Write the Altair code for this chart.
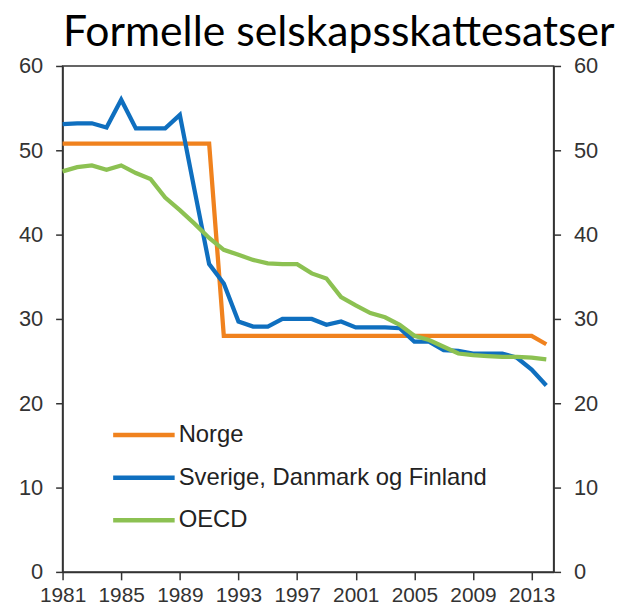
import altair as alt
import pandas as pd

years = [1981, 1982, 1983, 1984, 1985, 1986, 1987, 1988, 1989, 1990,
         1991, 1992, 1993, 1994, 1995, 1996, 1997, 1998, 1999, 2000,
         2001, 2002, 2003, 2004, 2005, 2006, 2007, 2008, 2009, 2010,
         2011, 2012, 2013, 2014]

norge = [50.8, 50.8, 50.8, 50.8, 50.8, 50.8, 50.8, 50.8, 50.8, 50.8,
         50.8, 28.0, 28.0, 28.0, 28.0, 28.0, 28.0, 28.0, 28.0, 28.0,
         28.0, 28.0, 28.0, 28.0, 28.0, 28.0, 28.0, 28.0, 28.0, 28.0,
         28.0, 28.0, 28.0, 27.0]

nordisk = [53.1, 53.2, 53.2, 52.7, 56.0, 52.6, 52.6, 52.6, 54.2, 45.3,
           36.5, 34.2, 29.7, 29.1, 29.1, 30.0, 30.0, 30.0, 29.3, 29.7,
           29.0, 29.0, 29.0, 28.9, 27.3, 27.3, 26.3, 26.2, 25.9, 25.9,
           25.9, 25.4, 24.0, 22.1]

oecd = [47.5, 48.0, 48.2, 47.7, 48.2, 47.3, 46.6, 44.4, 42.9, 41.3,
        39.6, 38.2, 37.6, 37.0, 36.6, 36.5, 36.5, 35.4, 34.8, 32.6,
        31.6, 30.7, 30.2, 29.3, 28.0, 27.5, 26.7, 25.9, 25.7, 25.6,
        25.5, 25.5, 25.4, 25.2]

series_names = ["Norge", "Sverige, Danmark og Finland", "OECD"]
series_colors = ["#F0821E", "#0F6FBF", "#8CC152"]
y_ticks = [0, 10, 20, 30, 40, 50, 60]
title_text = "Formelle selskapsskattesatser"

rows = []
for name, vals in zip(series_names, [norge, nordisk, oecd]):
    for yr, v in zip(years, vals):
        rows.append({"year": yr, "value": v, "series": name})
df = pd.DataFrame(rows)

axis_common = dict(
    labelFont="Liberation Sans",
    labelColor="#333333",
    domainColor="#333333",
    tickColor="#333333",
    domainWidth=1.5,
    tickWidth=1.5,
    grid=False,
    title=None,
)

x_enc = alt.X(
    "year:Q",
    scale=alt.Scale(domain=[1981, 2014.5], nice=False, zero=False),
    axis=alt.Axis(
        values=years,
        labelExpr="(datum.value - 1981) % 4 == 0 ? '' + datum.value : ''",
        tickSize=8,
        labelFontSize=21,
        labelPadding=5,
        labelOverlap=False,
        labelFlush=False,
        **axis_common,
    ),
)

y_scale = alt.Scale(domain=[0, 60], nice=False)

lines = alt.Chart(df).mark_line(strokeWidth=4.3).encode(
    x=x_enc,
    y=alt.Y(
        "value:Q",
        scale=y_scale,
        axis=alt.Axis(orient="left", values=y_ticks, tickSize=7,
                      labelFontSize=22, labelPadding=13, **axis_common),
    ),
    color=alt.Color(
        "series:N",
        scale=alt.Scale(domain=series_names, range=series_colors),
        legend=alt.Legend(
            orient="none",
            legendX=69,
            legendY=359,
            title=None,
            symbolType="M-3,0L3,0",
            symbolSize=427,
            symbolStrokeWidth=4.5,
            labelFont="Liberation Sans",
            labelFontSize=24,
            labelColor="#222222",
            labelOffset=22,
            labelLimit=0,
            rowPadding=18,
            padding=0,
        ),
    ),
)

right = alt.Chart(df).mark_line(opacity=0).encode(
    x=alt.X("year:Q"),
    y=alt.Y(
        "value:Q",
        scale=y_scale,
        axis=alt.Axis(orient="right", values=y_ticks, tickSize=7,
                      labelFontSize=22, labelPadding=13, **axis_common),
    ),
)

chart = (
    alt.layer(lines, right)
    .resolve_axis(y="independent")
    .properties(
        width=495,
        height=510,
        padding={"left": 55, "top": 56, "right": 78, "bottom": 40},
        autosize=alt.AutoSizeParams(type="none"),
        title=alt.Title(
            title_text,
            font="Lato",
            fontSize=43,
            fontWeight="normal",
            color="black",
            anchor="middle",
            frame="group",
            dx=31,
            offset=0,
        ),
    )
    .configure_view(stroke="#333333", strokeWidth=1.5)
)

chart.save("out.html", embed_options={"renderer": "svg", "actions": False})
